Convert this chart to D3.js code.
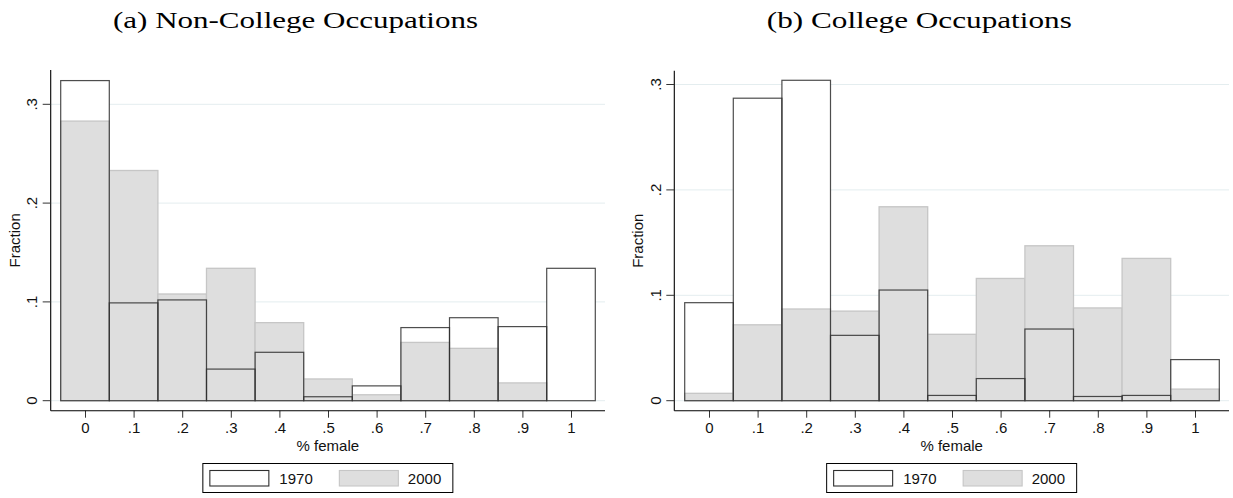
<!DOCTYPE html>
<html>
<head>
<meta charset="utf-8">
<script src="https://cdn.jsdelivr.net/npm/d3@7"></script>
<style>
  body { margin: 0; background: #fff; }
  svg { display: block; }
  .tick text { font-family: "Liberation Sans", Arial, sans-serif; }
</style>
</head>
<body>
<svg id="chart" width="1233" height="498"></svg>
<script>
// bin centres (share of women in the occupation)
var bins = [0, 0.1, 0.2, 0.3, 0.4, 0.5, 0.6, 0.7, 0.8, 0.9, 1];
var xTicks = [0, 0.1, 0.2, 0.3, 0.4, 0.5, 0.6, 0.7, 0.8, 0.9, 1];
var yTicks = [0, 0.1, 0.2, 0.3];
var years = ["1970", "2000"];

// (a) non-college occupations
var nonCollege1970 = [0.324, 0.099, 0.102, 0.032, 0.049, 0.004, 0.015, 0.074, 0.084, 0.075, 0.134];
var nonCollege2000 = [0.283, 0.233, 0.108, 0.134, 0.079, 0.022, 0.006, 0.059, 0.053, 0.018, 0.000];

// (b) college occupations
var college1970 = [0.093, 0.287, 0.304, 0.062, 0.105, 0.005, 0.021, 0.068, 0.004, 0.005, 0.039];
var college2000 = [0.007, 0.072, 0.087, 0.085, 0.184, 0.063, 0.116, 0.147, 0.088, 0.135, 0.011];

var svg = d3.select("#chart");
var sans = "'Liberation Sans', Arial, Helvetica, sans-serif";
var serif = "'Liberation Serif', 'Times New Roman', serif";
var fs = 15;

var fmt = function(d) {
  var s = d3.format(".1f")(d);
  if (s === "0.0") return "0";
  if (s === "1.0") return "1";
  return s.replace(/^0/, "");
};

function panel(opt) {
  var g = svg.append("g");

  var x = d3.scaleLinear().domain([0, 1]).range([opt.x0, opt.x1]);
  var y = d3.scaleLinear().domain([0, 0.3]).range([opt.y0, opt.y3]);
  var half = 0.05;

  // grid
  g.selectAll(".grid").data(yTicks).enter().append("line")
    .attr("x1", opt.left).attr("x2", opt.right)
    .attr("y1", d => y(d)).attr("y2", d => y(d))
    .attr("stroke", "#e4edef").attr("stroke-width", 1);

  var rows = bins.map((b, i) => ({ b: b, a: opt.s1970[i], c: opt.s2000[i] }));

  // 1970 white fill
  g.selectAll(".f70").data(rows).enter().append("rect")
    .attr("x", d => x(d.b - half)).attr("width", d => x(d.b + half) - x(d.b - half))
    .attr("y", d => y(d.a)).attr("height", d => y(0) - y(d.a))
    .attr("fill", "#fff");

  // 2000 grey bars
  g.selectAll(".b00").data(rows.filter(d => d.c > 0)).enter().append("rect")
    .attr("x", d => x(d.b - half)).attr("width", d => x(d.b + half) - x(d.b - half))
    .attr("y", d => y(d.c)).attr("height", d => y(0) - y(d.c))
    .attr("fill", "#dedede").attr("stroke", "#c6c6c6").attr("stroke-width", 1.3);

  // 1970 outlines
  g.selectAll(".o70").data(rows).enter().append("rect")
    .attr("x", d => x(d.b - half)).attr("width", d => x(d.b + half) - x(d.b - half))
    .attr("y", d => y(d.a)).attr("height", d => y(0) - y(d.a))
    .attr("fill", "none").attr("stroke", "#2e2e2e").attr("stroke-width", 1.2)
    .attr("stroke-opacity", 0.85);

  // x axis
  var xa = g.append("g").attr("transform", "translate(0," + opt.bottom + ")")
    .call(d3.axisBottom(x).tickValues(xTicks).tickFormat(fmt).tickSize(7).tickSizeOuter(0).tickPadding(4.5));
  xa.select(".domain").remove();
  xa.selectAll(".tick line").attr("stroke", "#333");
  xa.selectAll(".tick text").attr("font-size", fs).attr("fill", "#111").attr("font-family", sans);
  g.append("line").attr("x1", opt.left).attr("x2", opt.right)
    .attr("y1", opt.bottom).attr("y2", opt.bottom).attr("stroke", "#000").attr("stroke-width", 1.1);

  // y axis
  g.append("line").attr("x1", opt.left).attr("x2", opt.left)
    .attr("y1", opt.top).attr("y2", opt.bottom).attr("stroke", "#000").attr("stroke-width", 1.1);
  g.selectAll(".yt").data(yTicks).enter().append("line")
    .attr("x1", opt.left - 8).attr("x2", opt.left)
    .attr("y1", d => y(d)).attr("y2", d => y(d)).attr("stroke", "#333");
  g.selectAll(".yl").data(yTicks).enter().append("text")
    .attr("transform", d => "translate(" + (opt.left - 13.5) + "," + y(d) + ") rotate(-90)")
    .attr("text-anchor", "middle").attr("font-family", sans).attr("font-size", fs).attr("fill", "#111")
    .text(fmt);

  // axis titles
  g.append("text")
    .attr("transform", "translate(" + (opt.left - 31) + "," + ((opt.top + opt.bottom) / 2) + ") rotate(-90)")
    .attr("text-anchor", "middle").attr("font-family", sans).attr("font-size", fs).attr("fill", "#111")
    .text("Fraction");
  var cx = (opt.left + opt.right) / 2;
  g.append("text").attr("x", cx).attr("y", 450.5)
    .attr("text-anchor", "middle").attr("font-family", sans).attr("font-size", fs).attr("fill", "#111")
    .text("% female");

  // legend
  var lg = g.append("g").attr("transform", "translate(" + (cx - 125) + ",463.5)");
  lg.append("rect").attr("width", 250).attr("height", 29)
    .attr("fill", "#fff").attr("stroke", "#000").attr("stroke-width", 1);
  lg.append("rect").attr("x", 7).attr("y", 7).attr("width", 59).attr("height", 15.5)
    .attr("fill", "#fff").attr("stroke", "#2e2e2e").attr("stroke-width", 1.1);
  lg.append("rect").attr("x", 136.5).attr("y", 7).attr("width", 59).attr("height", 15.5)
    .attr("fill", "#dedede").attr("stroke", "#c6c6c6").attr("stroke-width", 1.1);
  lg.selectAll(".lt").data(years).enter().append("text")
    .attr("x", (d, i) => i ? 205 : 76.5).attr("y", 20.3)
    .attr("font-family", sans).attr("font-size", fs).attr("fill", "#111")
    .text(d => d);

  // panel title
  var t = svg.append("text").attr("x", opt.titleX).attr("y", 27.5)
    .attr("text-anchor", "middle").attr("font-family", serif).attr("font-size", 23).attr("fill", "#000")
    .text(opt.title);
  t.attr("textLength", opt.titleW).attr("lengthAdjust", "spacingAndGlyphs");
}

panel({
  title: "(a) Non-College Occupations", titleX: 295.5, titleW: 365,
  s1970: nonCollege1970, s2000: nonCollege2000,
  left: 50.7, right: 605, top: 70, bottom: 410.7,
  x0: 85, x1: 571, y0: 400.7, y3: 104.3
});

panel({
  title: "(b) College Occupations", titleX: 919.3, titleW: 305,
  s1970: college1970, s2000: college2000,
  left: 674.3, right: 1229, top: 70.7, bottom: 410.7,
  x0: 709, x1: 1195, y0: 400.7, y3: 84.5
});
</script>
</body>
</html>
